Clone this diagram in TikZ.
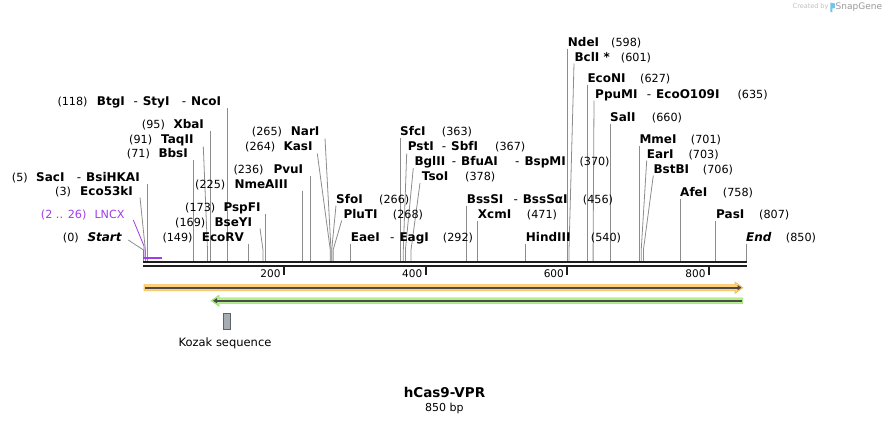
\documentclass[tikz,border=0pt]{standalone}
\usepackage{fontspec}
\setmainfont{DejaVu Sans}
\usetikzlibrary{arrows.meta}
\definecolor{cutgray}{HTML}{8C8C8C}
\definecolor{bb}{HTML}{1E1E1E}
\definecolor{lncx}{HTML}{A03CEB}
\definecolor{orf}{HTML}{FFD27A}
\definecolor{orfb}{HTML}{F7BE5A}
\definecolor{grf}{HTML}{B6F08C}
\definecolor{grfb}{HTML}{98E070}
\definecolor{fline}{HTML}{4A4A4A}
\definecolor{kozf}{HTML}{A7ACB3}
\definecolor{kozb}{HTML}{5E6369}
\definecolor{snapblue}{HTML}{6EC6F0}
\newcommand\dsh{{\mdseries -}\hspace{5pt}}
\newcommand\vcut[3]{\coordinate (#1t) at (#2,#3); \coordinate (#1s) at (#2,261); \draw[cut] (#1t) -- (#1s);}
\newcommand\dcut[4]{\coordinate (#1t) at (#2,#3); \coordinate (#1b) at (#4,250); \coordinate (#1s) at (#4,261); \draw[cut] (#1t) -- (#1b) -- (#1s);}
\begin{document}
\begin{tikzpicture}[x=1pt,y=-1pt,
  num/.style={anchor=west,inner sep=0pt,text height=8pt,text depth=0pt,font=\fontsize{11.2}{13}\selectfont},
  enz/.style={num,text height=8.6pt,font=\fontsize{12}{14}\selectfont\bfseries},
  enzi/.style={num,text height=8.6pt,font=\fontsize{12}{14}\selectfont\bfseries\itshape},
  cut/.style={draw=cutgray,line width=0.8pt},
  tick/.style={anchor=east,inner sep=0pt,text height=8pt,text depth=0pt,font=\fontsize{10.5}{12}\selectfont}]
\useasboundingbox (0,0) rectangle (890,424);

% ---------- cut-site connectors ----------
\dcut{Start}{128.3}{240}{143.5}
\dcut{Ecoff}{140}{197.5}{145.4}
\vcut{SacI}{147}{183.5}
\vcut{BbsI}{193.6}{160}
\dcut{TaqII}{203.3}{146.5}{207.5}
\vcut{XbaI}{210.6}{130.5}
\vcut{NcoI}{227}{108}
\vcut{EcoRV}{248.8}{243.5}
\dcut{BseYI}{260}{228.5}{263}
\vcut{PspFI}{265.8}{214}
\vcut{NmeAIII}{302.7}{190.5}
\vcut{PvuI}{310.5}{176}
\dcut{KasI}{317.3}{153.5}{330.3}
\dcut{NarI}{325}{138.5}{331}
\dcut{SfoI}{336}{205.5}{331.7}
\dcut{PluTI}{341.7}{220.5}{333.1}
\vcut{EaeI}{350.2}{243.5}
\vcut{SfcI}{400.4}{138}
\dcut{PstI}{406.7}{153.5}{403.3}
\dcut{BglII}{413.3}{168}{405.4}
\dcut{TsoI}{420}{183}{411}
\vcut{BssSI}{466.5}{205.5}
\vcut{XcmI}{477.2}{220.5}
\vcut{HindIII}{525.8}{243.5}
\vcut{NdeI}{567}{48.5}
\dcut{BclI}{574}{63.5}{569}
\vcut{EcoNI}{587.4}{84.5}
\dcut{PpuMI}{594}{100.5}{593.1}
\vcut{SalI}{610.5}{123.5}
\vcut{MmeI}{639.7}{145.5}
\dcut{EarI}{646.7}{160.5}{641.2}
\dcut{BstBI}{653.3}{175.5}{643.4}
\vcut{AfeI}{680.2}{198.5}
\vcut{PasI}{715.2}{220.5}
\vcut{End}{746}{243.5}

% ---------- LNCX feature ----------
\coordinate (lncxt) at (133.3,220);
\coordinate (lncxb) at (144,246);
\coordinate (lncxs) at (144,257.6);
\coordinate (lncxe) at (161.5,257.6);
\draw[lncx,line width=0.8pt] (lncxt) -- (lncxb) -- (lncxs);
\draw[lncx,line width=2pt] (143.3,257.6) -- (lncxe);

% ---------- backbone ----------
\draw[bb,line width=2.3pt] (143.3,262.1) -- (746.6,262.1);
\draw[bb,line width=2pt] (143.3,266.3) -- (746.6,266.3);
\foreach \tx/\tl in {284/200,425.7/400,567.3/600,709/800}{
  \draw[bb,line width=2pt] (\tx,266.5) -- (\tx,274.5);
  \node[tick] (tk\tl) at (\tx-3.3,273.5) {\tl};
}

% ---------- left labels ----------
\node[num] (n118) at (57.3,101.5) {(118)};
\node[enz] (BtgI) at (96.7,101.5) {BtgI};
\node[enz] (StyI) at (133.3,101.5) {\dsh StyI};
\node[enz] (NcoI) at (181.7,101.5) {\dsh NcoI};
\node[num] (n95) at (141.7,124) {(95)};
\node[enz] (XbaI) at (173.3,124) {XbaI};
\node[num] (n91) at (129,139) {(91)};
\node[enz] (TaqII) at (161,139) {TaqII};
\node[num] (n71) at (126.7,153.5) {(71)};
\node[enz] (BbsI) at (158.3,153.5) {BbsI};
\node[num] (n5) at (11.7,177) {(5)};
\node[enz] (SacI) at (36,177) {SacI};
\node[enz] (BsiHKAI) at (76.7,177) {\dsh BsiHKAI};
\node[num] (n3) at (55,191.5) {(3)};
\node[enz] (Eco53kI) at (80,191.5) {Eco53kI};
\node[num,text=lncx] (lncxpos) at (40.7,214) {(2 .. 26)};
\node[num,text=lncx] (LNCX) at (94.3,214) {LNCX};
\node[num] (n0) at (62.7,237) {(0)};
\node[enzi] (StartL) at (87.3,237) {Start};

% ---------- middle-left labels ----------
\node[num] (n265) at (251.7,131.5) {(265)};
\node[enz] (NarIL) at (290.7,131.5) {NarI};
\node[num] (n264) at (245,146.5) {(264)};
\node[enz] (KasIL) at (283.3,146.5) {KasI};
\node[num] (n236) at (233.3,169.5) {(236)};
\node[enz] (PvuIL) at (273.3,169.5) {PvuI};
\node[num] (n225) at (195,184) {(225)};
\node[enz] (NmeAIIIL) at (234.3,184) {NmeAIII};
\node[num] (n173) at (185,207.5) {(173)};
\node[enz] (PspFIL) at (223.3,207.5) {PspFI};
\node[num] (n169) at (175,222) {(169)};
\node[enz] (BseYIL) at (214.3,222) {BseYI};
\node[num] (n149) at (162.3,237) {(149)};
\node[enz] (EcoRVL) at (201.7,237) {EcoRV};

% ---------- middle labels ----------
\node[enz] (SfcIL) at (400,131.5) {SfcI};
\node[num] (n363) at (441.7,131.5) {(363)};
\node[enz] (PstIL) at (407.7,146.5) {PstI};
\node[enz] (SbfIL) at (441.7,146.5) {\dsh SbfI};
\node[num] (n367) at (495,146.5) {(367)};
\node[enz] (BglIIL) at (414.3,161.5) {BglII};
\node[enz] (BfuAIL) at (451.7,161.5) {\dsh BfuAI};
\node[enz] (BspMIL) at (515,161.5) {\dsh BspMI};
\node[num] (n370) at (579.3,161.5) {(370)};
\node[enz] (TsoIL) at (421.7,176.5) {TsoI};
\node[num] (n378) at (465,176.5) {(378)};
\node[enz] (SfoIL) at (336,199) {SfoI};
\node[num] (n266) at (379,199) {(266)};
\node[enz] (PluTIL) at (343.3,214) {PluTI};
\node[num] (n268) at (392.7,214) {(268)};
\node[enz] (EaeIL) at (350.7,237) {EaeI};
\node[enz] (EagIL) at (390,237) {\dsh EagI};
\node[num] (n292) at (442.7,237) {(292)};
\node[enz] (BssSIL) at (466.7,199) {BssSI};
\node[enz] (BssSaIL) at (513.3,199) {\dsh BssSαI};
\node[num] (n456) at (582.7,199) {(456)};
\node[enz] (XcmIL) at (477.7,214) {XcmI};
\node[num] (n471) at (526.7,214) {(471)};
\node[enz] (HindIIIL) at (525.7,237) {HindIII};
\node[num] (n540) at (590.7,237) {(540)};

% ---------- right labels ----------
\node[enz] (NdeIL) at (567.7,42) {NdeI};
\node[num] (n598) at (611,42) {(598)};
\node[enz] (BclIL) at (574.3,57) {BclI *};
\node[num] (n601) at (620.7,57) {(601)};
\node[enz] (EcoNIL) at (587.3,78) {EcoNI};
\node[num] (n627) at (640,78) {(627)};
\node[enz] (PpuMIL) at (595,94) {PpuMI};
\node[enz] (EcoOL) at (646.7,94) {\dsh EcoO109I};
\node[num] (n635) at (737.3,94) {(635)};
\node[enz] (SalIL) at (610,117) {SalI};
\node[num] (n660) at (651.7,117) {(660)};
\node[enz] (MmeIL) at (639.3,139) {MmeI};
\node[num] (n701) at (690.7,139) {(701)};
\node[enz] (EarIL) at (646.7,154) {EarI};
\node[num] (n703) at (688.3,154) {(703)};
\node[enz] (BstBIL) at (653.3,169) {BstBI};
\node[num] (n706) at (702.7,169) {(706)};
\node[enz] (AfeIL) at (680,192) {AfeI};
\node[num] (n758) at (722.7,192) {(758)};
\node[enz] (PasIL) at (716,214) {PasI};
\node[num] (n807) at (759,214) {(807)};
\node[enzi] (EndL) at (746,237) {End};
\node[num] (n850) at (785.7,237) {(850)};

% ---------- features ----------
\filldraw[fill=orf,draw=orfb,line width=0.6pt]
  (144,284.6) -- (735,284.6) -- (735,282) -- (743,287.7) -- (735,293.4) -- (735,290.8) -- (144,290.8) -- cycle;
\draw[fline,line width=1.8pt,-{Triangle[length=4pt,width=5pt]}] (145,287.7) -- (741.5,287.7);
\filldraw[fill=grf,draw=grfb,line width=0.6pt]
  (742.7,297.8) -- (219,297.8) -- (219,295.2) -- (211,300.7) -- (219,306.2) -- (219,303.6) -- (742.7,303.6) -- cycle;
\draw[fline,line width=1.8pt,-{Triangle[length=4pt,width=5pt]}] (741.5,300.7) -- (213,300.7);
\node[draw=kozb,fill=kozf,line width=0.6pt,minimum width=7.4pt,minimum height=16pt,inner sep=0pt] (kozakbox) at (227,321.3) {};
\node[inner sep=0pt,text height=8pt,text depth=2pt,font=\fontsize{11.5}{13}\selectfont] (kozak) at (225,343.3) {Kozak sequence};

% ---------- title ----------
\node[inner sep=0pt,text height=9.8pt,text depth=0pt,font=\fontsize{13.5}{15}\selectfont\bfseries] (title) at (444.5,392.5) {hCas9-VPR};
\node[inner sep=0pt,text height=8pt,text depth=0pt,font=\fontsize{11}{13}\selectfont] (bp) at (444.3,407.5) {850 bp};

% ---------- watermark ----------
\node[anchor=west,inner sep=0pt,font=\fontsize{6.5}{8}\selectfont,text=black!25] (created) at (792.5,7) {Created by};
\fill[snapblue] (830.3,2.5) -- (834.8,3.5) -- (834.8,8) -- (832.3,8.5) -- (832.3,12) -- (830.3,12) -- cycle;
\node[anchor=west,inner sep=0pt,font=\fontsize{9}{10}\selectfont,text=black!40] (snapgene) at (835.5,7) {SnapGene};
\end{tikzpicture}
\end{document}
